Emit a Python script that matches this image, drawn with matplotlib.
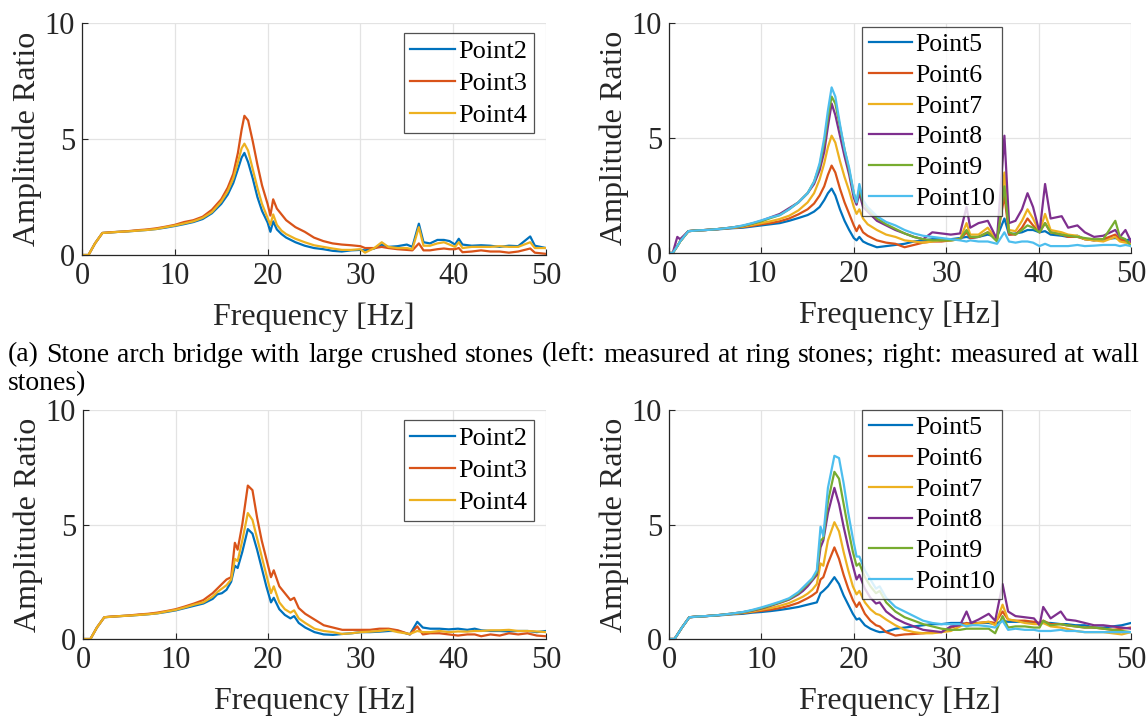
import numpy as np
import matplotlib
matplotlib.use("Agg")
import matplotlib.pyplot as plt

plt.rcParams['font.family'] = ['Liberation Serif', 'DejaVu Serif']
plt.rcParams['mathtext.fontset'] = 'stix'

# matlab default line colours
colors = ['#0072BD', '#D95319', '#EDB120', '#7E2F8E', '#77AC30', '#4DBEEE']

# ---- (a) left: ring stones ----
f_tl = [0, 0.7, 1.4, 2.2, 3, 4, 5, 6, 7, 8, 9, 10, 11, 12, 13, 14, 15, 15.7, 16.3, 16.8,
        17.2, 17.5, 17.9, 18.4, 18.9, 19.4, 20.0, 20.3, 20.6, 21.0, 21.5, 22, 22.5, 23, 24,
        25, 26, 27, 28, 29, 30, 30.5, 31.5, 32.3, 33, 34, 35, 35.6, 36.3, 36.8, 37.5, 38.3,
        39, 39.6, 40.2, 40.6, 41, 42, 43, 44, 45, 46, 47, 48.3, 48.8, 50]
tl_p2 = [0, 0, 0.5, 0.95, 0.97, 1.0, 1.02, 1.05, 1.08, 1.12, 1.18, 1.25, 1.33, 1.42, 1.55,
         1.8, 2.2, 2.6, 3.1, 3.7, 4.2, 4.4, 4.0, 3.3, 2.5, 1.9, 1.4, 1.0, 1.45, 1.1, 0.9,
         0.75, 0.65, 0.55, 0.4, 0.3, 0.25, 0.18, 0.15, 0.2, 0.22, 0.2, 0.28, 0.45, 0.35,
         0.38, 0.45, 0.35, 1.35, 0.55, 0.5, 0.65, 0.65, 0.6, 0.45, 0.7, 0.45, 0.4, 0.42,
         0.4, 0.35, 0.4, 0.38, 0.8, 0.4, 0.3]
tl_p3 = [0, 0, 0.5, 0.95, 0.98, 1.0, 1.03, 1.07, 1.1, 1.15, 1.22, 1.3, 1.42, 1.5, 1.65,
         1.95, 2.4, 2.9, 3.5, 4.4, 5.4, 6.0, 5.8, 4.9, 3.9, 3.0, 2.2, 1.7, 2.4, 2.0, 1.75,
         1.5, 1.35, 1.2, 1.0, 0.75, 0.6, 0.5, 0.45, 0.42, 0.38, 0.3, 0.3, 0.35, 0.3, 0.25,
         0.22, 0.2, 0.5, 0.2, 0.2, 0.25, 0.28, 0.25, 0.25, 0.3, 0.12, 0.15, 0.2, 0.15,
         0.15, 0.1, 0.15, 0.28, 0.1, 0.05]
tl_p4 = [0, 0, 0.5, 0.95, 0.97, 1.0, 1.02, 1.05, 1.08, 1.12, 1.2, 1.27, 1.36, 1.45, 1.6,
         1.85, 2.3, 2.75, 3.3, 4.0, 4.6, 4.8, 4.5, 3.7, 2.9, 2.2, 1.6, 1.3, 1.75, 1.3,
         1.05, 0.9, 0.8, 0.7, 0.55, 0.42, 0.35, 0.28, 0.22, 0.22, 0.25, 0.1, 0.3, 0.55,
         0.35, 0.3, 0.3, 0.25, 1.2, 0.4, 0.4, 0.5, 0.55, 0.45, 0.35, 0.55, 0.3, 0.35, 0.35,
         0.35, 0.38, 0.35, 0.35, 0.55, 0.3, 0.3]

# ---- (a) right: wall stones ----
f_tr = [0, 0.4, 0.9, 1.2, 2.1, 3, 4, 5, 6, 7, 8, 9, 10, 11, 12, 13, 14, 15, 15.7, 16.3,
        16.8, 17.2, 17.6, 18.0, 18.5, 19.0, 19.5, 20.0, 20.3, 20.6, 21.0, 21.5, 22.5, 23.5,
        24.5, 25.5, 26.5, 27.5, 28.5, 29.5, 30.5, 31.5, 32.2, 32.6, 33.5, 34.5, 35.5, 36.3,
        36.8, 37.5, 38.2, 38.8, 39.4, 40.1, 40.7, 41.3, 42.5, 43.2, 44.2, 45, 46, 47, 48.3,
        48.8, 49.4, 50]
tr_p5 = [0, 0, 0.3, 0.5, 0.95, 0.98, 1.0, 1.02, 1.05, 1.08, 1.1, 1.15, 1.2, 1.25, 1.3,
         1.4, 1.52, 1.65, 1.8, 2.0, 2.3, 2.6, 2.8, 2.5, 1.9, 1.4, 1.0, 0.65, 0.55, 0.7,
         0.5, 0.4, 0.25, 0.3, 0.35, 0.4, 0.5, 0.55, 0.6, 0.6, 0.6, 0.65, 0.7, 0.65, 0.7,
         0.8, 0.7, 1.5, 0.8, 0.85, 0.9, 1.0, 1.0, 0.9, 0.95, 0.8, 0.75, 0.7, 0.75, 0.6,
         0.55, 0.6, 0.65, 0.6, 0.55, 0.6]
tr_p6 = [0, 0, 0.3, 0.5, 0.95, 0.98, 1.0, 1.03, 1.06, 1.1, 1.13, 1.18, 1.25, 1.3, 1.38,
         1.5, 1.68, 1.9, 2.15, 2.5, 2.9, 3.4, 3.8, 3.5, 2.8, 2.2, 1.7, 1.2, 0.95, 1.2,
         0.9, 0.75, 0.55, 0.45, 0.4, 0.25, 0.35, 0.45, 0.5, 0.5, 0.55, 0.6, 0.9, 0.65,
         0.7, 0.9, 0.6, 2.5, 0.8, 0.8, 1.1, 1.5, 1.2, 0.9, 1.3, 0.9, 0.8, 0.7, 0.7, 0.6,
         0.55, 0.6, 0.8, 0.6, 0.5, 0.45]
tr_p7 = [0, 0, 0.3, 0.5, 0.95, 0.98, 1.0, 1.03, 1.07, 1.1, 1.15, 1.22, 1.3, 1.38, 1.48,
         1.62, 1.85, 2.2, 2.6, 3.2, 3.9, 4.6, 5.1, 4.8, 4.0, 3.3, 2.7, 2.0, 1.7, 1.9,
         1.5, 1.25, 1.0, 0.8, 0.7, 0.55, 0.5, 0.45, 0.5, 0.55, 0.55, 0.6, 1.3, 0.8, 0.8,
         1.1, 0.55, 3.5, 1.0, 0.95, 1.4, 1.9, 1.5, 0.9, 1.7, 1.0, 0.9, 0.8, 0.75, 0.6,
         0.55, 0.5, 0.7, 0.5, 0.45, 0.4]
tr_p8 = [0, 0, 0.7, 0.6, 0.95, 0.98, 1.0, 1.03, 1.07, 1.12, 1.18, 1.28, 1.4, 1.55, 1.7,
         1.95, 2.2, 2.6, 3.0, 3.6, 4.4, 5.5, 6.5, 6.0, 5.1, 4.2, 3.4, 2.4, 2.1, 2.6,
         2.0, 1.8, 1.4, 1.2, 1.0, 0.85, 0.7, 0.6, 0.9, 0.85, 0.8, 0.85, 2.0, 1.1, 1.3,
         1.4, 0.6, 5.1, 1.3, 1.4, 1.9, 2.6, 2.0, 0.9, 3.0, 1.5, 1.6, 1.1, 1.2, 0.9,
         0.7, 0.75, 1.0, 0.7, 1.0, 0.5]
tr_p9 = [0, 0, 0.3, 0.5, 0.95, 0.98, 1.0, 1.03, 1.07, 1.12, 1.18, 1.28, 1.38, 1.52, 1.65,
         1.9, 2.2, 2.6, 3.1, 3.8, 4.8, 5.9, 6.8, 6.5, 5.5, 4.5, 3.6, 2.6, 2.2, 2.8,
         2.2, 1.9, 1.5, 1.25, 1.05, 0.85, 0.7, 0.6, 0.55, 0.55, 0.55, 0.6, 1.0, 0.7, 0.7,
         0.9, 0.5, 2.9, 0.9, 0.8, 1.0, 1.2, 1.1, 0.9, 1.3, 0.9, 0.8, 0.75, 0.7, 0.65,
         0.6, 0.6, 1.4, 0.7, 0.6, 0.3]
tr_p10 = [0, 0, 0.3, 0.5, 0.95, 0.98, 1.0, 1.03, 1.07, 1.12, 1.2, 1.3, 1.42, 1.55, 1.65,
          1.9, 2.2, 2.6, 3.1, 3.9, 5.0, 6.2, 7.2, 6.8, 5.6, 4.5, 3.7, 2.6, 2.2, 3.0,
          2.3, 2.0, 1.6, 1.35, 1.2, 1.0, 0.85, 0.75, 0.7, 0.65, 0.6, 0.55, 0.5, 0.55, 0.5,
          0.5, 0.4, 0.9, 0.5, 0.45, 0.5, 0.5, 0.45, 0.3, 0.4, 0.3, 0.3, 0.3, 0.35, 0.3,
          0.32, 0.35, 0.35, 0.3, 0.35, 0.3]

# ---- second bridge, left ----
f_bl = [0, 0.8, 1.5, 2.3, 3, 4, 5, 6, 7, 8, 9, 10, 11, 12, 13, 14, 14.5, 15, 15.5, 16,
        16.4, 16.7, 17.2, 17.8, 18.3, 18.8, 19.3, 19.8, 20.3, 20.6, 21.2, 21.8, 22.4, 22.8,
        23.3, 24, 25, 26, 27, 28, 29, 30, 31, 32, 33, 34, 35.3, 36.1, 36.7, 37.5, 38.5,
        39.5, 40.5, 41.5, 42.3, 43, 44, 45, 46, 47, 48, 49, 50]
bl_p2 = [0, 0, 0.5, 0.95, 0.97, 1.0, 1.02, 1.05, 1.08, 1.12, 1.18, 1.25, 1.35, 1.45, 1.55,
         1.75, 1.95, 2.0, 2.15, 2.5, 3.2, 3.1, 3.8, 4.8, 4.6, 3.9, 3.1, 2.3, 1.6, 1.8,
         1.3, 1.05, 0.9, 1.0, 0.7, 0.5, 0.3, 0.2, 0.18, 0.22, 0.25, 0.3, 0.3, 0.32, 0.35,
         0.35, 0.2, 0.75, 0.5, 0.45, 0.45, 0.42, 0.45, 0.4, 0.45, 0.38, 0.35, 0.35, 0.33,
         0.35, 0.35, 0.3, 0.35]
bl_p3 = [0, 0, 0.5, 0.95, 0.98, 1.0, 1.03, 1.07, 1.1, 1.15, 1.22, 1.3, 1.42, 1.55, 1.7,
         2.0, 2.2, 2.4, 2.6, 2.7, 4.2, 3.9, 5.0, 6.7, 6.5, 5.3, 4.3, 3.5, 2.7, 3.0,
         2.3, 2.0, 1.7, 1.8, 1.35, 1.1, 0.85, 0.6, 0.5, 0.4, 0.4, 0.4, 0.4, 0.45, 0.45,
         0.38, 0.2, 0.55, 0.2, 0.25, 0.25, 0.2, 0.15, 0.2, 0.2, 0.12, 0.2, 0.15, 0.25,
         0.2, 0.25, 0.15, 0.12]
bl_p4 = [0, 0, 0.5, 0.95, 0.97, 1.0, 1.02, 1.05, 1.08, 1.12, 1.2, 1.27, 1.38, 1.5, 1.6,
         1.85, 2.05, 2.2, 2.35, 2.6, 3.5, 3.4, 4.3, 5.5, 5.2, 4.4, 3.6, 2.8, 2.0, 2.3,
         1.6, 1.3, 1.15, 1.25, 0.9, 0.7, 0.45, 0.35, 0.3, 0.22, 0.25, 0.3, 0.32, 0.35, 0.4,
         0.3, 0.22, 0.35, 0.3, 0.3, 0.35, 0.3, 0.33, 0.32, 0.35, 0.35, 0.38, 0.38, 0.4,
         0.35, 0.35, 0.33, 0.3]

# ---- second bridge, right ----
f_br = [0, 0.6, 1.4, 2.2, 3, 4, 5, 6, 7, 8, 9, 10, 11, 12, 13, 14, 14.5, 15, 15.5, 16,
        16.4, 16.7, 17.2, 17.9, 18.4, 18.9, 19.4, 19.9, 20.3, 20.6, 21.2, 21.8, 22.4, 22.8,
        23.5, 24.5, 25.5, 26.5, 27.5, 28.5, 29.5, 30.5, 31.5, 32.2, 32.7, 33.5, 34.6, 35.3,
        36.1, 36.7, 37.5, 38.5, 39.5, 40.1, 40.5, 41.3, 42.4, 43, 44, 45, 46, 47, 48, 49, 50]
br_p5 = [0, 0, 0.5, 0.95, 0.97, 1.0, 1.02, 1.05, 1.08, 1.1, 1.15, 1.18, 1.22, 1.27, 1.33,
         1.4, 1.45, 1.5, 1.55, 1.6, 2.0, 2.1, 2.3, 2.7, 2.4, 1.9, 1.5, 1.1, 0.85, 0.9,
         0.6, 0.45, 0.35, 0.3, 0.32, 0.45, 0.5, 0.55, 0.6, 0.65, 0.65, 0.7, 0.7, 0.65, 0.7,
         0.7, 0.7, 0.65, 0.8, 0.75, 0.75, 0.75, 0.7, 0.7, 0.7, 0.7, 0.65, 0.65, 0.6, 0.6,
         0.5, 0.5, 0.55, 0.6, 0.7]
br_p6 = [0, 0, 0.5, 0.95, 0.98, 1.0, 1.03, 1.06, 1.1, 1.13, 1.18, 1.23, 1.28, 1.35, 1.45,
         1.58, 1.68, 1.78, 1.9, 2.05, 2.6, 2.7, 3.3, 4.0, 3.5, 2.8, 2.2, 1.7, 1.4, 1.6,
         1.1, 0.8, 0.6, 0.55, 0.3, 0.15, 0.2, 0.22, 0.25, 0.3, 0.3, 0.5, 0.6, 0.7, 0.65,
         0.7, 0.75, 0.7, 1.2, 0.85, 0.8, 0.8, 0.75, 0.7, 0.8, 0.65, 0.65, 0.6, 0.55, 0.5,
         0.5, 0.45, 0.4, 0.45, 0.5]
br_p7 = [0, 0, 0.5, 0.95, 0.98, 1.0, 1.03, 1.07, 1.1, 1.15, 1.2, 1.28, 1.35, 1.45, 1.57,
         1.75, 1.85, 1.98, 2.15, 2.4, 3.3, 3.2, 4.3, 5.1, 4.7, 3.8, 3.0, 2.3, 1.95, 2.1,
         1.6, 1.3, 1.1, 1.05, 0.85, 0.6, 0.4, 0.3, 0.25, 0.25, 0.3, 0.35, 0.55, 0.65, 0.6,
         0.7, 0.75, 0.6, 1.5, 0.85, 0.8, 0.7, 0.65, 0.65, 0.7, 0.55, 0.5, 0.45, 0.35, 0.3,
         0.3, 0.3, 0.25, 0.2, 0.3]
br_p8 = [0, 0, 0.5, 0.95, 0.98, 1.0, 1.03, 1.07, 1.12, 1.17, 1.24, 1.33, 1.45, 1.58, 1.72,
         1.95, 2.1, 2.3, 2.55, 2.8, 4.0, 4.3, 5.5, 6.6, 5.9, 4.9, 4.0, 3.2, 2.6, 2.8,
         2.2, 1.8, 1.55, 1.6, 1.2, 0.9, 0.7, 0.55, 0.4, 0.35, 0.3, 0.55, 0.6, 1.2, 0.7,
         0.85, 1.1, 0.8, 2.4, 1.2, 1.0, 0.95, 0.9, 0.6, 1.4, 0.9, 1.2, 0.85, 0.8, 0.7,
         0.6, 0.6, 0.55, 0.5, 0.45]
br_p9 = [0, 0, 0.5, 0.95, 0.98, 1.0, 1.03, 1.07, 1.12, 1.17, 1.25, 1.35, 1.47, 1.6, 1.75,
         2.0, 2.2, 2.4, 2.6, 2.9, 4.3, 4.4, 6.0, 7.3, 7.0, 5.9, 4.8, 3.8, 3.2, 3.3,
         2.7, 2.3, 2.0, 2.1, 1.6, 1.2, 0.95, 0.8, 0.65, 0.55, 0.45, 0.4, 0.4, 0.45, 0.45,
         0.45, 0.45, 0.25, 1.0, 0.5, 0.55, 0.55, 0.5, 0.5, 0.8, 0.6, 0.65, 0.6, 0.55, 0.5,
         0.5, 0.45, 0.4, 0.35, 0.3]
br_p10 = [0, 0, 0.5, 0.95, 0.98, 1.0, 1.03, 1.07, 1.12, 1.18, 1.27, 1.38, 1.5, 1.63, 1.78,
          2.05, 2.25, 2.45, 2.65, 3.0, 4.9, 4.5, 6.6, 8.0, 7.9, 6.8, 5.5, 4.4, 3.6, 3.6,
          3.0, 2.6, 2.2, 2.3, 1.8, 1.4, 1.2, 1.0, 0.8, 0.7, 0.65, 0.65, 0.65, 0.55, 0.6,
          0.6, 0.55, 0.5, 0.8, 0.4, 0.45, 0.4, 0.4, 0.35, 0.35, 0.35, 0.4, 0.35, 0.35, 0.3,
          0.3, 0.3, 0.3, 0.3, 0.3]

ring_labels = ['Point2', 'Point3', 'Point4']
wall_labels = ['Point5', 'Point6', 'Point7', 'Point8', 'Point9', 'Point10']

caption_a = ("(a) Stone arch bridge with large crushed stones (left: measured at ring stones; "
             "right: measured at wall")
caption_a2 = "stones)"

W, H = 1146, 718
fig = plt.figure(figsize=(W / 100, H / 100), dpi=100)
ink = '#262626'


def px_axes(x0, y0, x1, y1):
    # pixel box (top-left origin) -> figure axes
    return fig.add_axes([x0 / W, 1 - y1 / H, (x1 - x0) / W, (y1 - y0) / H])


def style(ax, legend_labels, loc, anchor, leg_fs, leg_sp):
    ax.set_xlim(0, 50)
    ax.set_ylim(0, 10)
    ax.set_xticks([0, 10, 20, 30, 40, 50])
    ax.set_yticks([0, 5, 10])
    ax.grid(True, color='#e3e3e3', linewidth=0.9)
    ax.set_axisbelow(True)
    for s in ['top', 'right']:
        ax.spines[s].set_visible(False)
    for s in ['left', 'bottom']:
        ax.spines[s].set_linewidth(0.9)
        ax.spines[s].set_color(ink)
    ax.tick_params(direction='in', length=4, width=0.8, labelsize=22, colors=ink, pad=5)
    ax.set_xlabel('Frequency [Hz]', fontsize=23, color=ink, labelpad=8)
    ax.set_ylabel('Amplitude Ratio', fontsize=23, color=ink, labelpad=2)
    leg = ax.legend(legend_labels, loc=loc, bbox_to_anchor=anchor,
                    borderaxespad=0, fontsize=leg_fs, frameon=True, fancybox=False,
                    handlelength=1.7, handletextpad=0.12, borderpad=0.25,
                    labelspacing=leg_sp)
    leg.get_frame().set_edgecolor(ink)
    leg.get_frame().set_linewidth(0.9)


ax_tl = px_axes(82, 23, 546, 255)
for y, c in zip([tl_p2, tl_p3, tl_p4], colors):
    ax_tl.plot(f_tl, y, color=c, lw=1.6)
style(ax_tl, ring_labels, 'upper right', (0.974, 0.957), 19, 0.32)

ax_tr = px_axes(669, 23, 1131, 253)
for y, c in zip([tr_p5, tr_p6, tr_p7, tr_p8, tr_p9, tr_p10], colors):
    ax_tr.plot(f_tr, y, color=c, lw=1.6)
style(ax_tr, wall_labels, 'upper left', (0.418, 0.983), 18.5, 0.3)

ax_bl = px_axes(83, 410, 546, 639)
for y, c in zip([bl_p2, bl_p3, bl_p4], colors):
    ax_bl.plot(f_bl, y, color=c, lw=1.6)
style(ax_bl, ring_labels, 'upper right', (0.974, 0.956), 19, 0.32)

ax_br = px_axes(669, 410, 1131, 639)
for y, c in zip([br_p5, br_p6, br_p7, br_p8, br_p9, br_p10], colors):
    ax_br.plot(f_br, y, color=c, lw=1.6)
style(ax_br, wall_labels, 'upper left', (0.418, 1.0), 18.5, 0.3)

# justified caption line between the rows
words = caption_a.split()
cap_fs = 20
txts = [fig.text(0, 1 - 355 / H, w, fontsize=cap_fs, va='center', ha='left') for w in words]
fig.canvas.draw()
rend = fig.canvas.get_renderer()
widths = [t.get_window_extent(rend).width for t in txts]
left, right = 8, 1140
gap = (right - left - sum(widths)) / (len(words) - 1)
x = left
for t, w in zip(txts, widths):
    t.set_x(x / W)
    x += w + gap
fig.text(left / W, 1 - 384 / H, caption_a2, fontsize=cap_fs, va='center', ha='left')

fig.savefig('out.png', dpi=100)
